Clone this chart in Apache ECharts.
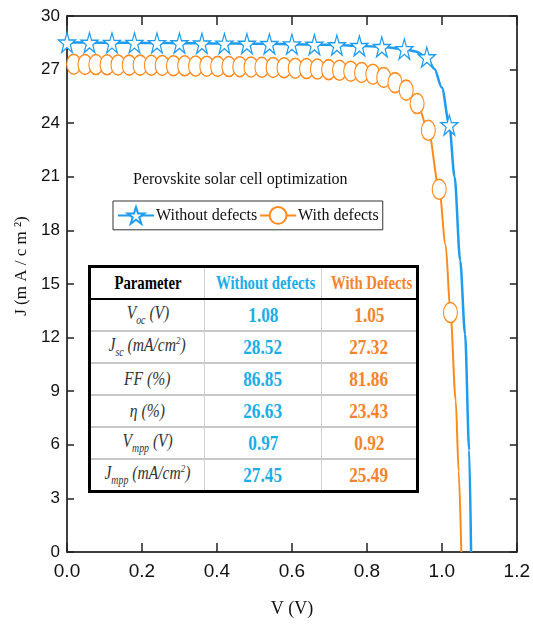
<!DOCTYPE html>
<html lang="en">
<head>
	<meta charset="UTF-8">
	<title>J-V curve</title>
	<script src="https://cdn.jsdelivr.net/npm/echarts@6/dist/echarts.min.js"></script>
	<style>
		body{ margin:0; background:#fff; }
		#wrap{ position:relative; width:533px; height:625px; }
		#main{ width:533px; height:625px; }
		#tbl{ position:absolute; left:88px; top:265px; z-index:5; }
		#tbl table{
			border-collapse:collapse; border:3px solid #000; background:#fff;
			width:328px; height:219px; table-layout:fixed;
			font-family:"Liberation Serif","Times New Roman",serif;
		}
		#tbl td{ text-align:center; padding:0; height:30px; border-top:2px solid #c8c8c8; border-left:1px solid #d0d0d0; white-space:nowrap; }
		#tbl td span{ display:inline-block; transform:scaleX(0.82); transform-origin:center; }
		#tbl tr.head td{ border-bottom:2px solid #000; border-top:none; font-weight:bold; font-size:18px; }
		#tbl td.lab{ font-style:italic; font-size:19px; color:#333; }
		#tbl td.val{ font-weight:bold; font-size:21px; }
		#tbl sub{ font-size:12px; }
		#tbl sup{ font-size:11px; }
	</style>
</head>
<body>
	<div id="wrap">
		<div id="main"></div>
		<div id="tbl"></div>
	</div>
<script type="text/javascript">
// without defects: points with star markers + extra points of the line
var withoutMarkV = [0.00, 0.06, 0.12, 0.18, 0.24, 0.30, 0.36, 0.42, 0.48, 0.54, 0.60, 0.66, 0.72, 0.78, 0.84, 0.90, 0.96, 1.02];
var withoutMarkJ = [28.52, 28.51, 28.50, 28.50, 28.49, 28.48, 28.47, 28.46, 28.45, 28.44, 28.42, 28.40, 28.37, 28.33, 28.27, 28.15, 27.70, 23.90];
var withoutLineV = [0.93, 0.98, 1.00, 1.034, 1.049, 1.062, 1.073, 1.078];
var withoutLineJ = [28.02, 27.05, 26.00, 21.00, 16.30, 12.20, 5.70, 0];

// with defects: points with circle markers + extra points of the line
var withMarkV = [0.018, 0.048, 0.077, 0.107, 0.136, 0.166, 0.195, 0.225, 0.254, 0.284, 0.314, 0.343,
	0.373, 0.402, 0.432, 0.461, 0.491, 0.520, 0.550, 0.579, 0.609, 0.639, 0.668, 0.698, 0.727, 0.757,
	0.786, 0.816, 0.845, 0.875, 0.905, 0.934, 0.964, 0.993, 1.023];
var withMarkJ = [27.30, 27.29, 27.28, 27.27, 27.26, 27.25, 27.25, 27.24, 27.23, 27.22, 27.21, 27.20,
	27.19, 27.18, 27.17, 27.16, 27.15, 27.13, 27.12, 27.10, 27.08, 27.06, 27.03, 27.00, 26.96, 26.91,
	26.84, 26.74, 26.56, 26.27, 25.85, 25.10, 23.60, 20.30, 13.40];
var withLineV = [0.000, 1.010, 1.037, 1.045, 1.052];
var withLineJ = [27.32, 17.20, 8.50, 4.50, 0];

var xTicks = ['0.0', '0.2', '0.4', '0.6', '0.8', '1.0', '1.2'];

// table
var paramLabels = ['V<sub>oc</sub> (V)', 'J<sub>sc</sub> (mA/cm<sup>2</sup>)', 'FF (%)', '\u03b7 (%)', 'V<sub>mpp</sub> (V)', 'J<sub>mpp</sub> (mA/cm<sup>2</sup>)'];
var withoutVals = ['1.08', '28.52', '86.85', '26.63', '0.97', '27.45'];
var withVals = ['1.05', '27.32', '81.86', '23.43', '0.92', '25.49'];

var blue = '#1e9cf0', orange = '#ff8a1c';
var tblBlue = '#1aaee8', tblOrange = '#f5832b';

function buildData(mv, mj, lv, lj){
	var arr = [];
	for(var i=0;i<mv.length;i++) arr.push({value:[mv[i], mj[i]]});
	for(var k=0;k<lv.length;k++) arr.push({value:[lv[k], lj[k]], symbol:'none'});
	arr.sort(function(a,b){ return a.value[0]-b.value[0]; });
	return arr;
}

var h = '<table><colgroup><col style="width:115px"><col style="width:117px"><col style="width:96px"></colgroup>';
h += '<tr class="head"><td><span>Parameter</span></td><td style="color:'+tblBlue+'"><span>Without defects</span></td><td style="color:'+tblOrange+'"><span>With Defects</span></td></tr>';
for(var r=0;r<paramLabels.length;r++){
	h += '<tr><td class="lab"><span>'+paramLabels[r]+'</span></td><td class="val" style="color:'+tblBlue+'"><span>'+withoutVals[r]+
		'</span></td><td class="val" style="color:'+tblOrange+'"><span>'+withVals[r]+'</span></td></tr>';
}
h += '</table>';
document.getElementById('tbl').innerHTML = h;

var star = 'path://M50,0 L61.8,35.3 L99,35.3 L69.1,57.1 L80.9,92.7 L50,70.6 L19.1,92.7 L30.9,57.1 L1,35.3 L38.2,35.3 Z';
var narrow = '"Liberation Sans Narrow","Arial Narrow","Liberation Sans",Arial,sans-serif';
var serif = '"Liberation Serif","Times New Roman",serif';

var mychart = echarts.init(document.getElementById('main'));

var axisBase = {
	axisLine:{ show:true, onZero:false, lineStyle:{ color:'#000', width:1.5 } },
	splitLine:{ show:false }
};

option = {
	animation:false,
	grid:{ left:67, right:10, top:16, bottom:73, containLabel:false },
	legend:{
		left:113, top:201,
		orient:'horizontal',
		itemWidth:36, itemHeight:21, itemGap:2,
		padding:[5, 4, 5, 4],
		borderColor:'#333', borderWidth:1, backgroundColor:'#fff',
		textStyle:{ fontFamily:serif, fontSize:16, color:'#111', padding:[0,0,0,-3] },
		data:['Without defects', 'With defects']
	},
	graphic:[{
		type:'text', x:133, y:180,
		style:{ text:'Perovskite solar cell optimization', font:'16px ' + serif, fill:'#111',
			align:'left', verticalAlign:'middle', textAlign:'left', textVerticalAlign:'middle' }
	}, {
		type:'text', x:22, y:266, rotation:Math.PI/2,
		style:{ text:'J (m A / c m \u00b2)', font:'17px ' + serif, fill:'#111',
			align:'center', verticalAlign:'middle', textAlign:'center', textVerticalAlign:'middle' }
	}],
	xAxis:[
		Object.assign({}, axisBase, {
			type:'value', min:0, max:1.2, interval:0.2, position:'bottom',
			name:'V (V)', nameLocation:'middle', nameGap:48,
			nameTextStyle:{ fontFamily:serif, fontSize:18, color:'#111' },
			axisTick:{ show:true, inside:true, length:9, lineStyle:{ color:'#222', width:1.5 } },
			axisLabel:{ margin:10, fontFamily:narrow, fontSize:19, color:'#111',
				formatter:function(v){ return xTicks[Math.round(v/0.2)]; } }
		}),
		Object.assign({}, axisBase, {
			type:'value', min:0, max:1.2, interval:0.2, position:'top',
			axisTick:{ show:true, inside:true, length:9, lineStyle:{ color:'#222', width:1.5 } },
			axisLabel:{ show:false }
		})
	],
	yAxis:[
		Object.assign({}, axisBase, {
			type:'value', min:0, max:30, interval:3, position:'left',
			axisTick:{ show:true, inside:true, length:7, lineStyle:{ color:'#222', width:1.5 } },
			axisLabel:{ margin:7, fontFamily:narrow, fontSize:17, color:'#111' }
		}),
		Object.assign({}, axisBase, {
			type:'value', min:0, max:30, interval:3, position:'right',
			axisTick:{ show:true, inside:true, length:7, lineStyle:{ color:'#222', width:1.5 } },
			axisLabel:{ show:false }
		})
	],
	series:[
		{
			name:'Without defects', type:'line',
			data:buildData(withoutMarkV, withoutMarkJ, withoutLineV, withoutLineJ),
			smooth:0.3, smoothMonotone:'x',
			symbol:star, symbolSize:[17, 20], symbolKeepAspect:false, showAllSymbol:true,
			lineStyle:{ color:blue, width:2.5 },
			itemStyle:{ color:'#fff', borderColor:blue, borderWidth:1.3 },
			z:3
		},
		{
			name:'With defects', type:'line',
			data:buildData(withMarkV, withMarkJ, withLineV, withLineJ),
			smooth:0.3, smoothMonotone:'x',
			symbol:'circle', symbolSize:[14, 20], showAllSymbol:true,
			lineStyle:{ color:orange, width:2 },
			itemStyle:{ color:'#fff', borderColor:orange, borderWidth:1.3 },
			z:2
		}
	]
};
mychart.setOption(option);
</script>
</body>
</html>
